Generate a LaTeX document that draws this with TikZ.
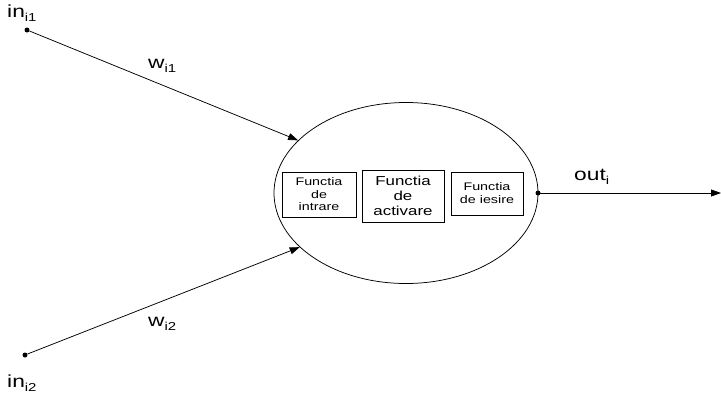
\documentclass[tikz,border=0pt]{standalone}
\usepackage{fontspec}
\setmainfont[FakeStretch=1.3]{Liberation Sans}
\usetikzlibrary{shapes.geometric,arrows.meta}

\tikzset{
  wire/.style={draw=black, line width=0.75pt},
  arrowed/.style={wire, -{Triangle[length=10pt,width=7pt]}},
  pin/.style={circle, fill=black, inner sep=0pt, minimum size=5pt},
  fnbox/.style={draw=black, line width=0.6pt, align=center, inner sep=0pt},
  lbl/.style={inner sep=0pt, anchor=base west, font=\fontsize{17.5}{19}\selectfont},
}
\newcommand{\sbs}[1]{\raisebox{-4.5pt}{\fontsize{11.5}{13}\selectfont #1}}

\begin{document}
\begin{tikzpicture}[x=1pt, y=-1pt]
  \useasboundingbox (0,0) rectangle (721,399);

  % the neuron body
  \node[ellipse, draw=black, line width=0.75pt, minimum width=264pt, minimum height=181pt, inner sep=0pt] (cell) at (406,193) {};

  % the three stages inside it
  \node[fnbox, minimum width=74pt, minimum height=45pt, font=\fontsize{11}{12.5}\selectfont] (fin) at (319,194.5) {Functia\\de\\intrare};
  \node[fnbox, minimum width=82pt, minimum height=52pt, font=\fontsize{13}{15}\selectfont] (fact) at (403,196) {Functia\\de\\activare};
  \node[fnbox, minimum width=72pt, minimum height=43pt, font=\fontsize{11}{13}\selectfont] (fout) at (487,193.5) {Functia\\de iesire};

  % inputs and output
  \node[pin] (in1) at (27,30) {};
  \node[pin] (in2) at (25,355) {};
  \node[pin] (outdot) at (538,193) {};
  \coordinate (outend) at (721,193);

  \draw[arrowed] (in1) -- (cell.154);
  \draw[arrowed] (in2) -- (cell.207);
  \draw[arrowed] (outdot.center) -- (outend);

  % labels
  \node[lbl] (lin1) at (7,17) {in\sbs{i1}};
  \node[lbl] (lin2) at (7,387) {in\sbs{i2}};
  \node[lbl] (lw1) at (148,68) {w\sbs{i1}};
  \node[lbl] (lw2) at (148,326) {w\sbs{i2}};
  \node[lbl] (lout) at (574,180) {out\sbs{i}};
\end{tikzpicture}
\end{document}
